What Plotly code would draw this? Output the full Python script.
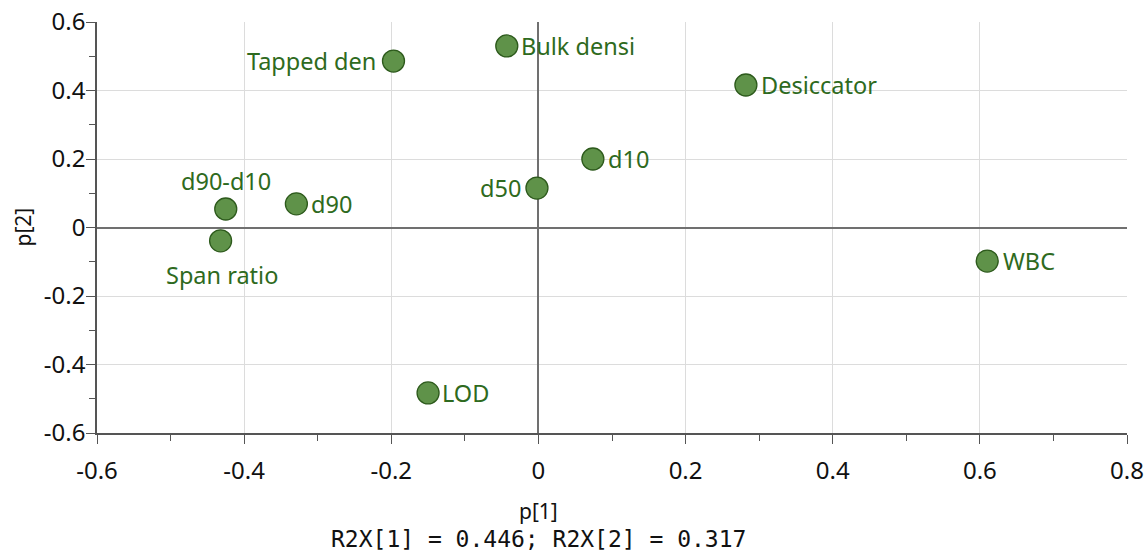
import plotly.graph_objects as go

names = ["Tapped den", "Bulk densi", "Desiccator", "d10", "d50", "d90",
         "d90-d10", "Span ratio", "WBC", "LOD"]
p1 = [-0.197, -0.043, 0.282, 0.074, -0.002, -0.329, -0.425, -0.432, 0.610, -0.150]
p2 = [0.486, 0.530, 0.416, 0.200, 0.115, 0.069, 0.054, -0.039, -0.098, -0.483]
# label placement: (xanchor, xshift px, yshift px)
label_place = [("right", -15, 0), ("left", 12, 0), ("left", 13, 0), ("left", 13, 0),
               ("right", -14, 0), ("left", 13, 0), ("center", 0, 28), ("center", 1, -34),
               ("left", 14, 0), ("left", 12, 0)]

x_ticks = [-0.6, -0.4, -0.2, 0, 0.2, 0.4, 0.6, 0.8]
x_ticklabels = ["-0.6", "-0.4", "-0.2", "0", "0.2", "0.4", "0.6", "0.8"]
y_ticks = [-0.6, -0.4, -0.2, 0, 0.2, 0.4, 0.6]
y_ticklabels = ["-0.6", "-0.4", "-0.2", "0", "0.2", "0.4", "0.6"]

x_title = "p[1]"
y_title = "p[2]"
subtitle = "R2X[1] = 0.446; R2X[2] = 0.317"

fig = go.Figure()
fig.add_trace(go.Scatter(
    x=p1, y=p2, mode="markers", text=names,
    marker=dict(size=22, color="#5f9249", line=dict(color="#2d5a1c", width=1.3)),
    cliponaxis=False, showlegend=False,
))

for name, xv, yv, (xa, xs, ys) in zip(names, p1, p2, label_place):
    fig.add_annotation(text=name, x=xv, y=yv, xref="x", yref="y", showarrow=False,
                       xanchor=xa, yanchor="middle", xshift=xs, yshift=ys,
                       font=dict(family="Noto Sans", size=23.5, color="#2e6a20"))

axis_common = dict(
    showgrid=True, gridcolor="#dcdcdc", gridwidth=1,
    zeroline=True, zerolinecolor="#707070", zerolinewidth=1.5,
    showline=True, linecolor="#555555", linewidth=1.5,
    ticks="outside", ticklen=9, tickwidth=1.3, tickcolor="#555555",
    minor=dict(ticks="outside", ticklen=6, tickwidth=1.3, tickcolor="#555555", dtick=0.1, showgrid=False),
    tickfont=dict(family="Noto Sans", size=24, color="#111111"),
    automargin=False,
)

fig.update_xaxes(range=[-0.6, 0.8], tickvals=x_ticks, ticktext=x_ticklabels,
                 ticklabelstandoff=6, **axis_common)
fig.update_yaxes(range=[-0.6, 0.6], tickvals=y_ticks, ticktext=y_ticklabels,
                 ticklabelstandoff=-4, **axis_common)

fig.add_annotation(text=x_title, xref="x", yref="paper", x=0, y=0, yshift=-78,
                   xanchor="center", yanchor="middle", showarrow=False,
                   font=dict(family="Noto Sans", size=21, color="#111111"))
fig.add_annotation(text=y_title, xref="paper", yref="y", x=-0.0728, y=0,
                   xanchor="center", yanchor="middle", showarrow=False, textangle=-90,
                   font=dict(family="Noto Sans", size=21, color="#111111"))
fig.add_annotation(text=subtitle, xref="x", yref="paper", x=0, y=0, yshift=-106,
                   xanchor="center", yanchor="middle", showarrow=False,
                   font=dict(family="DejaVu Sans Mono", size=23, color="#111111"))

fig.update_layout(
    width=1145, height=551,
    margin=dict(l=97, r=18, t=22, b=118),
    paper_bgcolor="white", plot_bgcolor="white",
)

fig.write_html("out.html")
